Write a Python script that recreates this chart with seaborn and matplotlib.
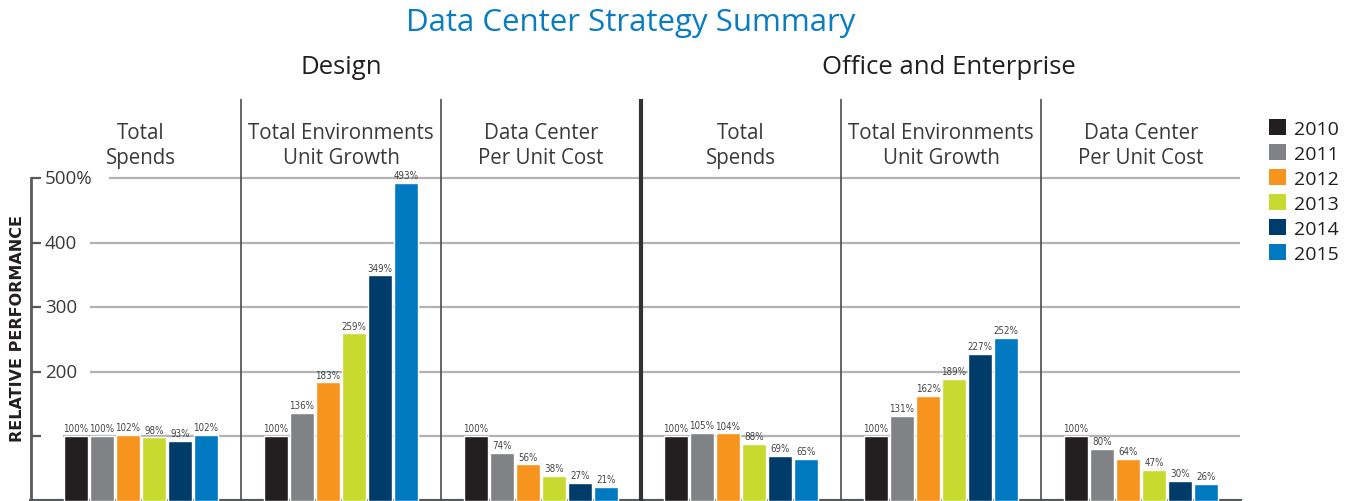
import matplotlib
matplotlib.use("Agg")
import matplotlib.pyplot as plt
import seaborn as sns
import pandas as pd
from matplotlib.patches import Patch

# ---------------- data ----------------
years = ["2010", "2011", "2012", "2013", "2014", "2015"]
panel_keys = ["d_spend", "d_growth", "d_cost", "o_spend", "o_growth", "o_cost"]
panel_titles = ["Total\nSpends", "Total Environments\nUnit Growth", "Data Center\nPer Unit Cost",
                "Total\nSpends", "Total Environments\nUnit Growth", "Data Center\nPer Unit Cost"]
group_titles = ["Design", "Office and Enterprise"]
design_spends = [100, 100, 102, 98, 93, 102]
design_growth = [100, 136, 183, 259, 349, 493]
design_cost = [100, 74, 56, 38, 27, 21]
office_spends = [100, 105, 104, 88, 69, 65]
office_growth = [100, 131, 162, 189, 227, 252]
office_cost = [100, 80, 64, 47, 30, 26]
ytick_values = [100, 200, 300, 400, 500]
ytick_labels = ["", "200", "300", "400", "500%"]
colors = ["#231f20", "#808285", "#f7941d", "#c8d92f", "#003c69", "#0079c1"]

series = [design_spends, design_growth, design_cost, office_spends, office_growth, office_cost]
rows = []
for key, vals in zip(panel_keys, series):
    for yr, v in zip(years, vals):
        rows.append({"panel": key, "year": yr, "value": v})
df = pd.DataFrame(rows)

# ---------------- style ----------------
sns.set_style("white")
plt.rcParams["font.family"] = ["Open Sans", "DejaVu Sans"]
text_col = "#3a3a3a"

W, H = 1349, 502
fig = plt.figure(figsize=(W / 100, H / 100), dpi=100)
ax_left, ax_right, ax_bot, ax_top = 31, 1240, 0.5, 100
ax = fig.add_axes([ax_left / W, ax_bot / H, (ax_right - ax_left) / W, (H - ax_bot - ax_top) / H])

sns.barplot(data=df, x="panel", y="value", hue="year", order=panel_keys, hue_order=years,
            palette=colors, width=0.78, gap=0.08, saturation=1, ax=ax, legend=False, zorder=3)

ax.set_xlim(-0.55, 5.495)
ax.set_ylim(0, 622.5)

# bar labels
for cont, yr in zip(ax.containers, years):
    vals = df[df["year"] == yr]["value"].tolist()
    ax.bar_label(cont, labels=[f"{v}%" for v in vals], padding=2, fontsize=7,
                 color="#444444", family="DejaVu Sans", fontstretch="condensed")

# gridlines
for v in ytick_values:
    start = -0.39 if v == 100 else (-0.16 if v == 500 else -0.255)
    ax.hlines(v, start, 5.495, color="#b3b3b3", lw=1.6, zorder=1)

# y tick labels (drawn inside)
for v, lab in zip(ytick_values, ytick_labels):
    if lab:
        ax.text(-0.48, v, lab, ha="left", va="center", fontsize=13.5, color=text_col)

# spines
for s in ["top", "right"]:
    ax.spines[s].set_visible(False)
ax.spines["left"].set_bounds(0, 500)
ax.spines["left"].set_color("#58595b")
ax.spines["left"].set_linewidth(2)
ax.spines["bottom"].set_color("#58595b")
ax.spines["bottom"].set_linewidth(3)

ax.set_yticks(ytick_values)
ax.set_yticklabels([])
ax.tick_params(axis="y", direction="in", length=7, width=1.6, color="#58595b", left=True)
ax.set_xticks([])
ax.set_xlabel("")
ax.set_ylabel("RELATIVE PERFORMANCE", fontsize=11.5, fontweight="bold", color="#231f20",
              family="DejaVu Sans")
ax.yaxis.set_label_coords(-6 / (ax_right - ax_left), (501.5 - 329) / 401.5)

# separators
for xs in [0.5, 1.5, 3.5, 4.5, 5.5]:
    ax.axvline(xs, color="#4d4d4d", lw=1.2, zorder=4)
ax.axvline(2.5, color="#333333", lw=3, zorder=4)

# panel titles
for i, t in enumerate(panel_titles):
    ax.text(i, 551, t, ha="center", va="center", fontsize=14.8, color=text_col, linespacing=1.22)

# group titles
def fx(px):
    return px / W

def fy(py):
    return 1 - py / H

fig.text(fx(341), fy(67), group_titles[0], ha="center", va="center", fontsize=18.5, color="#231f20")
fig.text(fx(949), fy(67), group_titles[1], ha="center", va="center", fontsize=18.5, color="#231f20")
fig.text(fx(631), fy(23), "Data Center Strategy Summary", ha="center", va="center",
         fontsize=22.5, color="#0a7cc1")

# legend
handles = [Patch(facecolor=c, edgecolor="none") for c in colors]
fig.legend(handles, years, loc="upper left", bbox_to_anchor=(fx(1269), fy(120)), frameon=False,
           fontsize=14, handlelength=0.88, handleheight=0.88, labelspacing=0.33,
           handletextpad=0.4, borderpad=0, borderaxespad=0, labelcolor="#231f20")

fig.savefig("out.png", dpi=100)
